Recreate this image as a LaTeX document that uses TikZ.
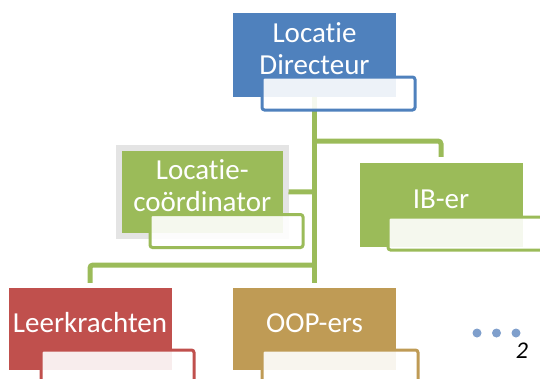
\documentclass[tikz,border=0pt]{standalone}
\usepackage{fontspec}
\setmainfont{Carlito}[Ligatures={NoCommon,NoContextual}]
\definecolor{obblue}{HTML}{4F81BD}
\definecolor{obgreen}{HTML}{9BBB59}
\definecolor{obred}{HTML}{C0504D}
\definecolor{obgold}{HTML}{BF9B55}
\definecolor{obgray}{HTML}{E4E4E4}
\definecolor{dotblue}{HTML}{7F9FCC}

\begin{document}
\begin{tikzpicture}[
    x=1pt, y=-1pt,
    rolebox/.style={rectangle, minimum width=163pt, minimum height=84pt, inner sep=0pt},
    roletext/.style={text=white, font=\fontsize{29}{32}\selectfont, align=center, inner sep=0pt},
    subbox/.style={rectangle, rounded corners=2.5pt, line width=3pt, fill=white,
      fill opacity=0.9, minimum width=153pt, minimum height=33pt, inner sep=0pt},
    conn/.style={obgreen, line width=5pt, rounded corners=3pt},
  ]

  % Page frame
  \useasboundingbox (0,0) rectangle (540,378);

  % === Role boxes ===
  \node[rolebox, fill=obblue] (dir) at (314.5,55) {};
  \node[rolebox, fill=obgreen, draw=obgray, line width=6pt,
    minimum width=166.5pt, minimum height=87.5pt] (coord) at (202.25,191.75) {};
  \node[rolebox, fill=obgreen] (ib) at (441,205) {};
  \node[rolebox, fill=obred, minimum height=82pt] (leer) at (90,329) {};
  \node[rolebox, fill=obgold, minimum height=82pt] (oop) at (314.5,329) {};

  % === Connectors (org lines) ===
  \coordinate (hubib) at (314.5,141);
  \coordinate (hubco) at (314.5,192);
  \coordinate (hublr) at (314.5,265);
  \draw[conn, shorten >=5pt] (dir.south) -- (oop.north);
  \draw[conn, shorten >=6pt] (hubib) -| (ib.north);
  \draw[conn] (hubco) -- (coord.east);
  \draw[conn, shorten >=5pt] (hublr) -| (leer.north);

  % === Sub boxes ===
  \node[subbox, draw=obblue] (dirsub) at (338.5,93.5) {};
  \node[subbox, draw=obgreen] (coordsub) at (226.5,231) {};
  \node[subbox, draw=obgreen, minimum width=157pt] (ibsub) at (466.5,233.5) {};
  \node[subbox, draw=obred] (leersub) at (117.5,366.5) {};
  \node[subbox, draw=obgold, minimum width=156pt] (oopsub) at (340,366.5) {};

  % === Labels ===
  \node[roletext] (dirtext) at ([yshift=6pt]dir.center) {Locatie\\Directeur};
  \node[roletext] (coordtext) at ([yshift=6pt]coord.center) {Locatie-\\coördinator};
  \node[roletext] (ibtext) at ([yshift=6pt]ib.center) {IB-er};
  \node[roletext] (leertext) at ([yshift=6pt]leer.center) {Leerkrachten};
  \node[roletext] (ooptext) at ([yshift=6pt]oop.center) {OOP-ers};

  % More (dots) and page number
  \foreach \i in {0,1,2}
    \fill[dotblue] (477+19.5*\i,333) circle (4.5);
  \node[font=\fontsize{24}{28}\selectfont\itshape, inner sep=0pt] (pagenum) at (522,351) {2};

\end{tikzpicture}
\end{document}
